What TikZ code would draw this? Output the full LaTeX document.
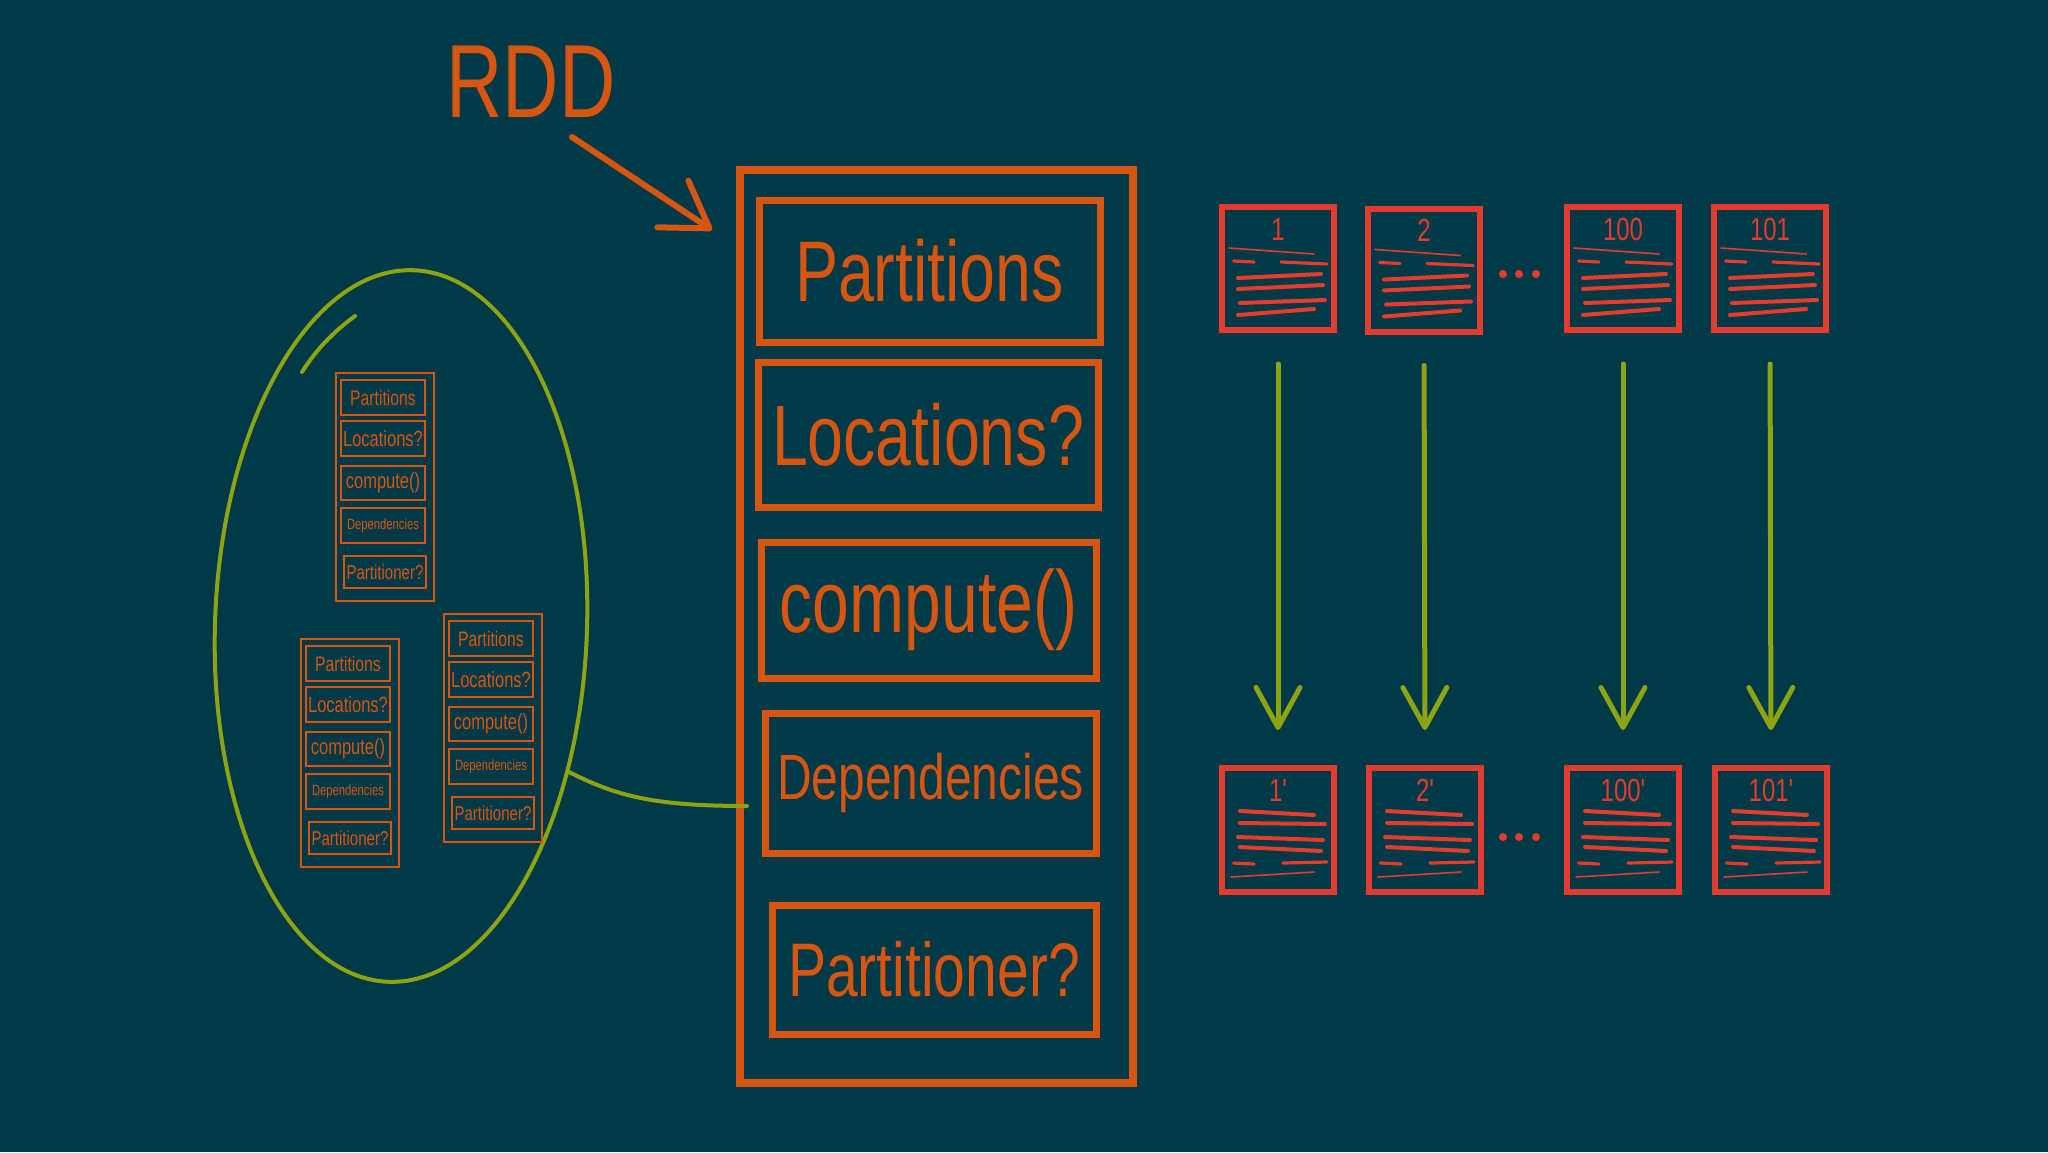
\documentclass[tikz,border=0pt]{standalone}
\usepackage{fontspec}
\newfontfamily\hand[FakeStretch=0.75]{Liberation Sans}
\usetikzlibrary{shapes.geometric,arrows.meta}
\definecolor{bg}{RGB}{1,57,71}
\definecolor{rddor}{RGB}{214,85,16}
\definecolor{docred}{RGB}{226,60,46}
\definecolor{lime}{RGB}{141,164,18}

\newcommand\rddstack[2]{%
 \begin{scope}[shift={#2}]
  \node[smallouter, minimum width=49pt, minimum height=114pt] (#1o) at (49,114) {};
  \node[smallbox, minimum width=42pt, minimum height=17.5pt, hfont=10.5] (#1a) at (47,24.5) {Partitions};
  \node[smallbox, minimum width=42pt, minimum height=17.5pt, hfont=11] (#1b) at (47,65.5) {Locations?};
  \node[smallbox, minimum width=42pt, minimum height=17pt, hfont=11] (#1c) at (47,110) {compute()};
  \node[smallbox, minimum width=42pt, minimum height=17.5pt, hfont=7.5] (#1d) at (47,152.5) {Dependencies};
  \node[smallbox, minimum width=41pt, minimum height=16pt, hfont=10] (#1e) at (49,199) {Partitioner?};
 \end{scope}}

\newcommand\doclinesA[1]{%
 \begin{scope}[shift={(#1.north west)}]
  \draw[docthin] (7,41) -- (92,47);
  \draw[docdash] (11.5,54) -- (32,55);
  \draw[docdash] (59,55) -- (105,57);
  \draw[docline] (16,71) -- (99,67);
  \draw[docline] (16,82) -- (101,78);
  \draw[docline] (18,96) -- (103,93);
  \draw[docline] (16,108) -- (92,102);
 \end{scope}}

\newcommand\doclinesB[1]{%
 \begin{scope}[shift={(#1.north west)}]
  \draw[docline] (18,43) -- (92,47);
  \draw[docline] (18,55) -- (103,56);
  \draw[docline] (16,69) -- (101,72);
  \draw[docline] (18,79) -- (99,83);
  \draw[docdash] (11.5,95) -- (32,96);
  \draw[docdash] (61,95) -- (105,94);
  \draw[docthin] (9,109) -- (92,104);
 \end{scope}}

\begin{document}
\begin{tikzpicture}[x=0.5pt,y=-0.5pt,
  hfont/.style={font=\hand\fontsize{#1}{#1}\selectfont},
  mainbox/.style={draw=rddor, line width=4pt, inner sep=0pt, outer sep=0pt},
  bigbox/.style={draw=rddor, line width=3.5pt, inner sep=0pt, outer sep=0pt, text=rddor},
  smallouter/.style={draw=rddor, line width=1.3pt, inner sep=0pt, outer sep=0pt},
  smallbox/.style={draw=rddor, line width=1pt, inner sep=0pt, outer sep=0pt, text=rddor},
  docbox/.style={draw=docred, line width=3pt, inner sep=0pt, outer sep=0pt, minimum width=56pt},
  doclab/.style={text=docred, hfont=16, inner sep=0pt},
  docline/.style={draw=docred, line width=2pt, line cap=round},
  docdash/.style={draw=docred, line width=1.6pt, line cap=round},
  docthin/.style={draw=docred, line width=0.8pt, line cap=round},
  garrow/.style={draw=lime, line width=2.5pt, line cap=round, -{Straight Barb[length=20pt,width=22pt,round]}, shorten <=17pt, shorten >=19pt},
  oarrow/.style={draw=rddor, line width=3pt, line cap=round, -{Straight Barb[length=22pt,width=28pt,round]}},
  gline/.style={draw=lime, line width=2pt, line cap=round}
]
\fill[bg] (0,0) rectangle (2048,1152);
\useasboundingbox (0,0) rectangle (2048,1152);

% RDD label and arrow
\node[text=rddor, hfont=52, inner sep=0pt] (rdd) at (531,82) {RDD};
\coordinate (rddtail) at (572,137);
\coordinate (rddtip) at (712,230);
\draw[oarrow] (rddtail) -- (rddtip);

% main RDD box
\node[mainbox, minimum width=196.5pt, minimum height=456.5pt] (main) at (936.5,626.5) {};
\node[bigbox, minimum width=170.5pt, minimum height=71pt, hfont=43] (part) at (929.5,271) {Partitions};
\node[bigbox, minimum width=170pt, minimum height=72.5pt, hfont=43] (loc) at (928,434.5) {Locations?};
\node[bigbox, minimum width=167.5pt, minimum height=68pt, hfont=44] (comp) at (928.5,610) {compute()};
\node[bigbox, minimum width=165.5pt, minimum height=70pt, hfont=32] (dep) at (930.5,783) {Dependencies};
\node[bigbox, minimum width=162pt, minimum height=64.5pt, hfont=38] (ptr) at (934,969.5) {Partitioner?};

% ellipse with small RDDs
\node[draw=lime, line width=2pt, ellipse, minimum width=186pt, minimum height=356pt, inner sep=0pt, rotate=-2] (ell) at (401,626) {};
\draw[gline] (355,316) .. controls (332,333) and (316,350) .. (302,372);
\rddstack{s1}{(336,373)}
\rddstack{s2}{(301,639)}
\rddstack{s3}{(444,614)}

% connector ellipse -> main box
\coordinate (depin) at (747,806);
\draw[gline] (ell.-39) .. controls (615,795) and (650,806) .. (depin);

% partitions top row
\node[docbox, minimum height=61.5pt] (p1) at (1278,268.5) {};
\node[docbox, minimum height=61.5pt] (p2) at (1424,270) {};
\node[docbox, minimum height=61.5pt] (p100) at (1623,268.5) {};
\node[docbox, minimum height=61.5pt] (p101) at (1770,268.5) {};
\node[doclab] (p1l) at ([yshift=-11pt]p1.north) {1};
\node[doclab] (p2l) at ([yshift=-11pt]p2.north) {2};
\node[doclab] (p100l) at ([yshift=-11pt]p100.north) {100};
\node[doclab] (p101l) at ([yshift=-11pt]p101.north) {101};
\doclinesA{p1}
\doclinesA{p2}
\doclinesA{p100}
\doclinesA{p101}
\fill[docred] (1503,274) circle[radius=2pt] (1519,274) circle[radius=2pt] (1536,274) circle[radius=2pt];

% partitions bottom row
\node[docbox, minimum height=62pt] (q1) at (1278,830) {};
\node[docbox, minimum height=62pt] (q2) at (1425,830) {};
\node[docbox, minimum height=62pt] (q100) at (1623,830) {};
\node[docbox, minimum height=62pt] (q101) at (1771,830) {};
\node[doclab] (q1l) at ([yshift=-11pt]q1.north) {1'};
\node[doclab] (q2l) at ([yshift=-11pt]q2.north) {2'};
\node[doclab] (q100l) at ([yshift=-11pt]q100.north) {100'};
\node[doclab] (q101l) at ([yshift=-11pt]q101.north) {101'};
\doclinesB{q1}
\doclinesB{q2}
\doclinesB{q100}
\doclinesB{q101}
\fill[docred] (1503,837) circle[radius=2pt] (1519,837) circle[radius=2pt] (1536,837) circle[radius=2pt];

% transformation arrows
\draw[garrow] (p1.south) -- (q1.north);
\draw[garrow] (p2.south) -- (q2.north);
\draw[garrow] (p100.south) -- (q100.north);
\draw[garrow] (p101.south) -- (q101.north);
\end{tikzpicture}
\end{document}
